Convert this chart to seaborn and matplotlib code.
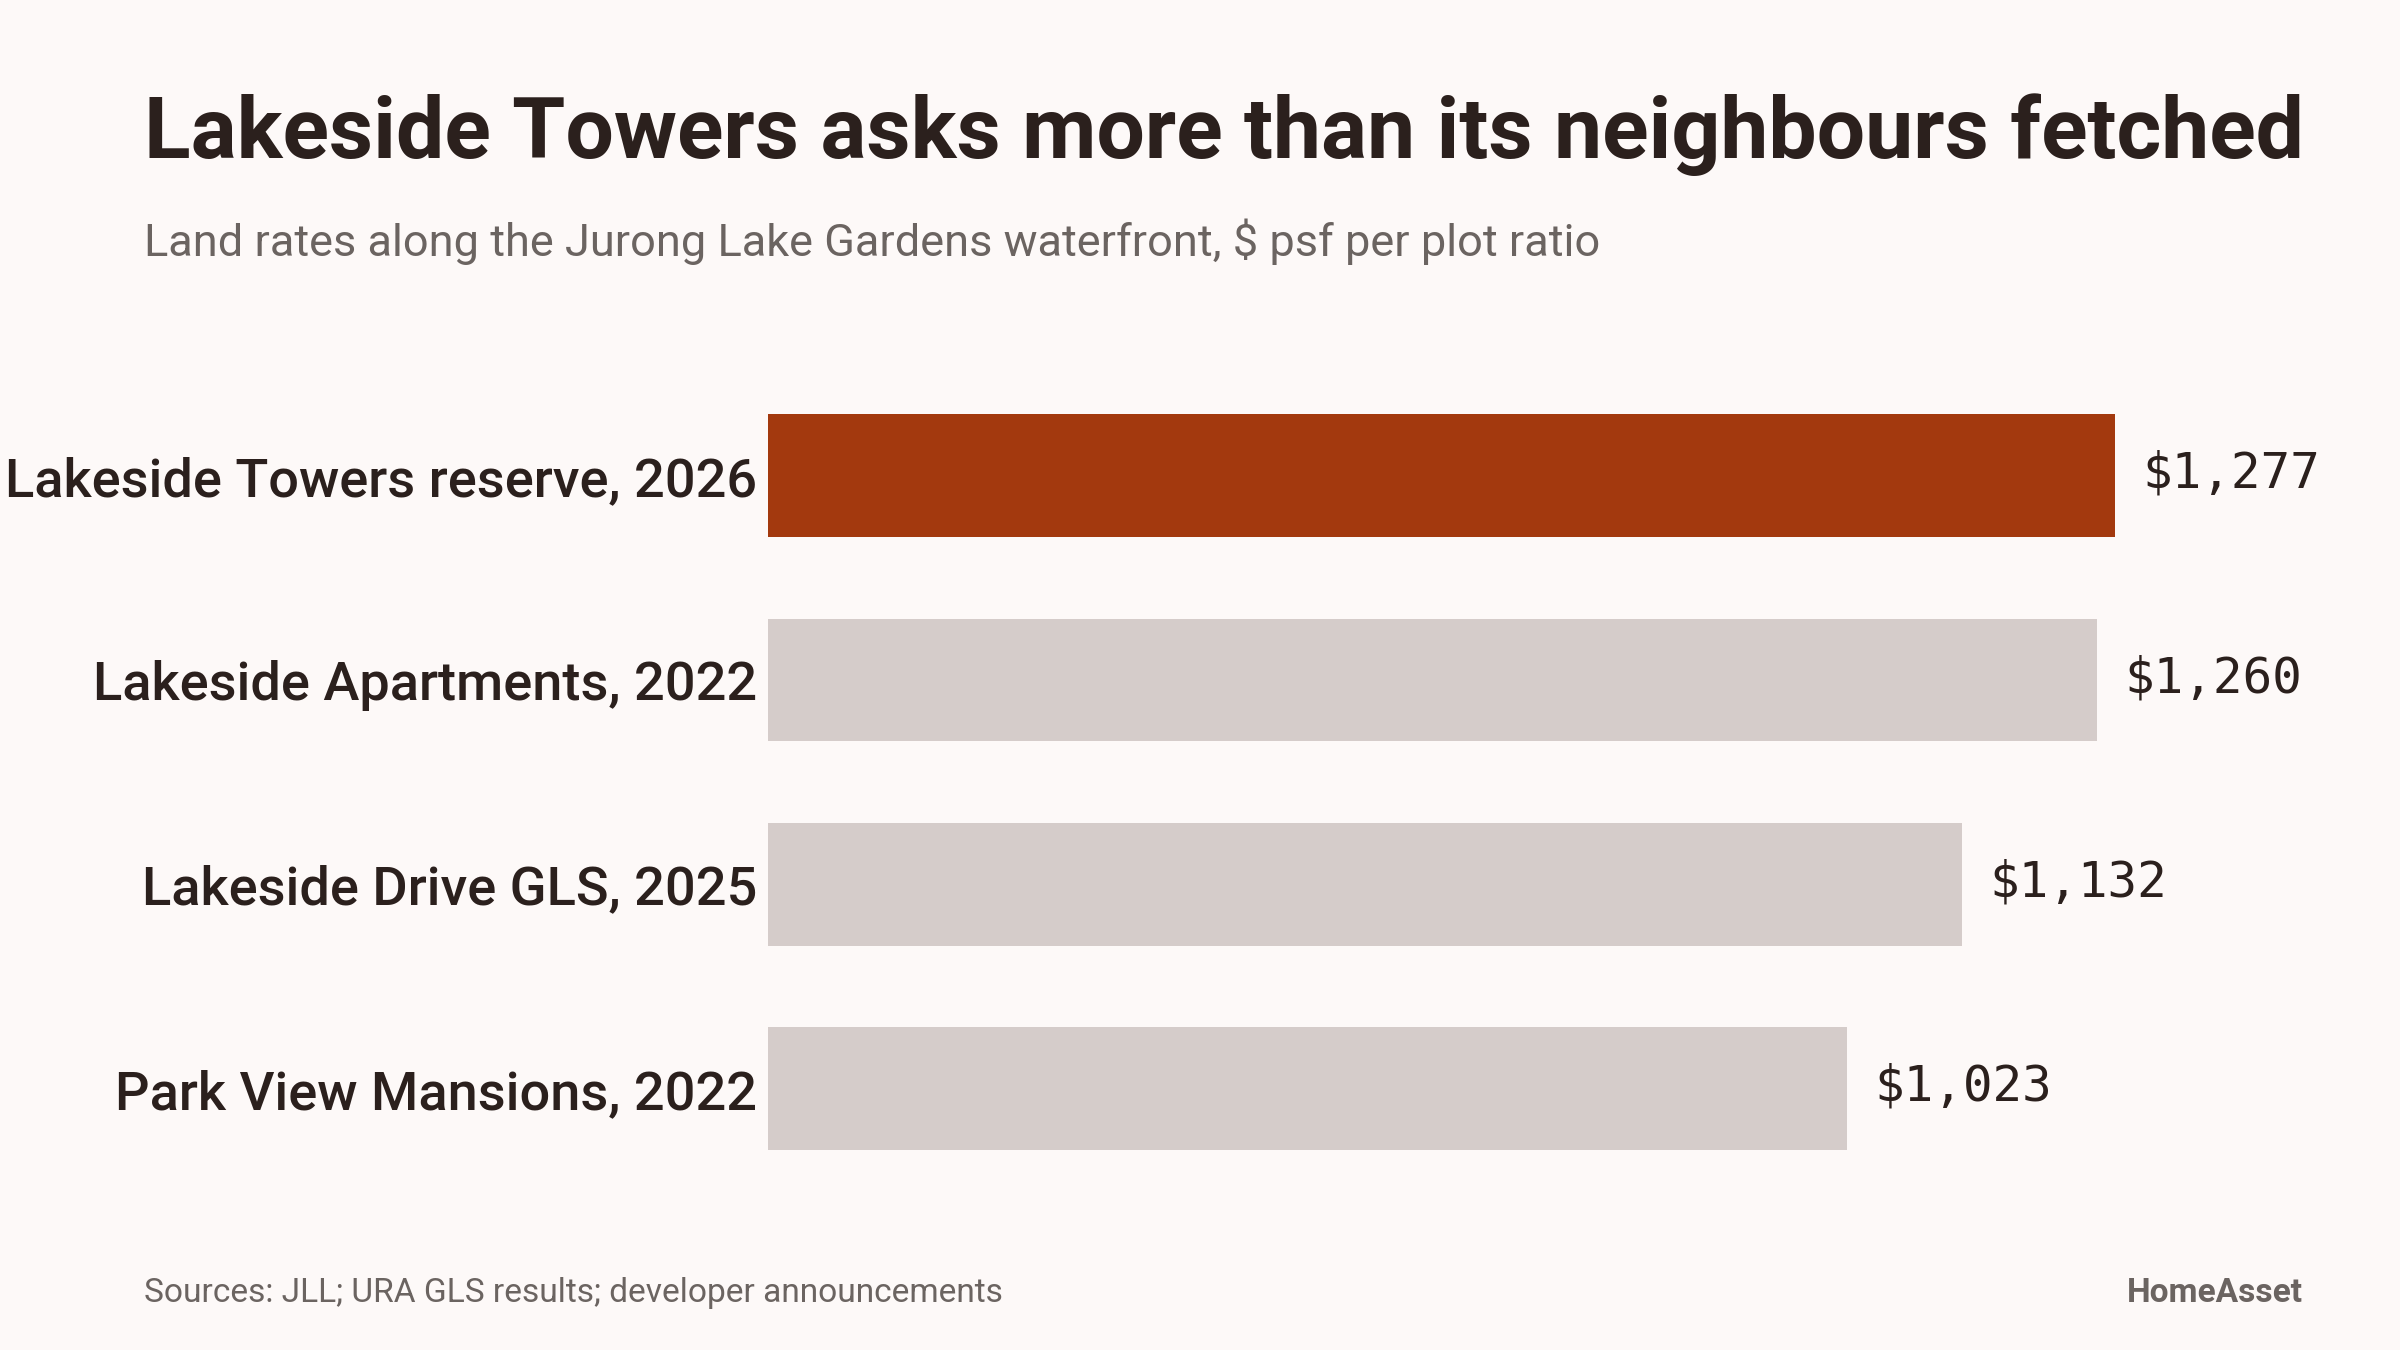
import matplotlib
matplotlib.use("Agg")
import matplotlib.pyplot as plt
import seaborn as sns
import pandas as pd

# ---- data ----
projects = [
    "Lakeside Towers reserve, 2026",
    "Lakeside Apartments, 2022",
    "Lakeside Drive GLS, 2025",
    "Park View Mansions, 2022",
]
land_rates = [1277, 1260, 1132, 1023]
value_labels = ["$1,277", "$1,260", "$1,132", "$1,023"]
bar_colors = ["#A3390E", "#D5CCCA", "#D5CCCA", "#D5CCCA"]

title = "Lakeside Towers asks more than its neighbours fetched"
subtitle = "Land rates along the Jurong Lake Gardens waterfront, $ psf per plot ratio"
source = "Sources: JLL; URA GLS results; developer announcements"
brand = "HomeAsset"

BG = "#FDF9F8"
INK = "#2B201D"
GREY = "#6B6461"

df = pd.DataFrame({"project": projects, "rate": land_rates})

sns.set_theme(style="white")
plt.rcParams["font.family"] = ["Roboto", "DejaVu Sans"]

W, H, DPI = 12, 6.75, 200
fig = plt.figure(figsize=(W, H), dpi=DPI, facecolor=BG)
ax = fig.add_axes([0.32, 0.1178, 0.9598 - 0.32, 0.7233 - 0.1178])
ax.set_facecolor(BG)

sns.barplot(data=df, y="project", x="rate", hue="project",
            palette=bar_colors, order=projects, hue_order=projects,
            width=0.6, legend=False, ax=ax, saturation=1, linewidth=0)

ax.set_xlim(0, 1455.6)
ax.set_ylim(3.5, -0.5)
ax.set_xlabel("")
ax.set_ylabel("")
ax.set_xticks([])
for s in ax.spines.values():
    s.set_visible(False)
ax.tick_params(axis="y", length=0, pad=3.9)

renderer = fig.canvas.get_renderer()
px2x = 1.0 / (W * DPI)


def fit(t, target_px):
    bb = t.get_window_extent(renderer=renderer)
    t.set_fontsize(t.get_fontsize() * target_px / bb.width)


labels = ax.get_yticklabels()
for lab in labels:
    lab.set_fontweight("medium")
    lab.set_color(INK)
    lab.set_fontsize(19)
bb = labels[0].get_window_extent(renderer=renderer)
scale = 753 / bb.width
for lab in labels:
    lab.set_fontsize(19 * scale)

vals = []
for i, (v, lab) in enumerate(zip(land_rates, value_labels)):
    a = ax.annotate(lab, xy=(v, i), xytext=(27 * 72 / DPI, 2 * 72 / DPI),
                    textcoords="offset points", va="center", ha="left",
                    fontsize=17.5, color=INK,
                    family=["DejaVu Sans Mono"])
    vals.append(a)
bb = vals[0].get_window_extent(renderer=renderer)
vs = 178 / bb.width
for a in vals:
    a.set_fontsize(17.5 * vs)


def ypos(px):
    return 1 - px / (H * DPI)


t1 = fig.text(144 * px2x, ypos(158), title, fontsize=28, fontweight="bold",
              color=INK, ha="left", va="baseline")
fit(t1, 2160)
t2 = fig.text(144 * px2x, ypos(256), subtitle, fontsize=15, color=GREY,
              ha="left", va="baseline")
fit(t2, 1453)
t3 = fig.text(144 * px2x, ypos(1302), source, fontsize=11, color=GREY,
              ha="left", va="baseline")
fit(t3, 862)
t4 = fig.text(2303 * px2x, ypos(1302), brand, fontsize=11, color=GREY,
              fontweight="bold", ha="right", va="baseline")
fit(t4, 176)

fig.savefig("out.png", dpi=DPI, facecolor=BG)
